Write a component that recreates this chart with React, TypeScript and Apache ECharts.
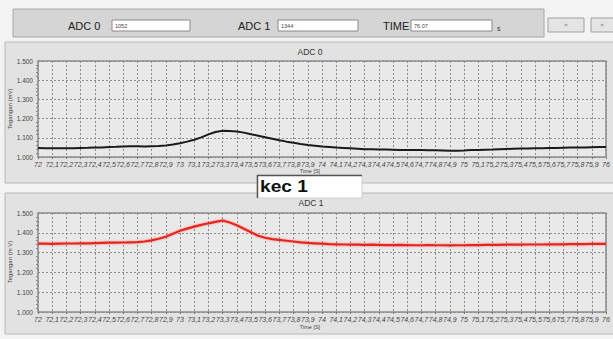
import React, { useEffect, useRef } from "react";
import * as echarts from "echarts";

const times = [
  72.0, 72.05, 72.1, 72.15, 72.2, 72.25, 72.3, 72.35, 72.4, 72.45,
  72.5, 72.55, 72.6, 72.65, 72.7, 72.75, 72.8, 72.85, 72.9, 72.95,
  73.0, 73.05, 73.1, 73.15, 73.2, 73.25, 73.3, 73.35, 73.4, 73.45,
  73.5, 73.55, 73.6, 73.65, 73.7, 73.75, 73.8, 73.85, 73.9, 73.95,
  74.0, 74.05, 74.1, 74.15, 74.2, 74.25, 74.3, 74.35, 74.4, 74.45,
  74.5, 74.55, 74.6, 74.65, 74.7, 74.75, 74.8, 74.85, 74.9, 74.95,
  75.0, 75.05, 75.1, 75.15, 75.2, 75.25, 75.3, 75.35, 75.4, 75.45,
  75.5, 75.55, 75.6, 75.65, 75.7, 75.75, 75.8, 75.85, 75.9, 75.95,
  76.0,
];

// ADC 0 (mV)
const adc0 = [
  1047, 1046, 1046, 1045, 1046, 1045, 1047, 1048, 1050, 1050,
  1052, 1053, 1055, 1056, 1056, 1055, 1056, 1057, 1060, 1065,
  1072, 1080, 1090, 1102, 1118, 1130, 1137, 1136, 1133, 1127,
  1119, 1111, 1103, 1095, 1087, 1080, 1074, 1068, 1063, 1059,
  1055, 1052, 1049, 1047, 1045, 1043, 1041, 1040, 1039, 1039,
  1038, 1037, 1037, 1036, 1036, 1035, 1035, 1034, 1032, 1033,
  1034, 1036, 1037, 1038, 1039, 1041, 1042, 1043, 1044, 1044,
  1045, 1046, 1047, 1047, 1048, 1049, 1049, 1050, 1051, 1052,
  1052,
];

// ADC 1 (mV)
const adc1 = [
  1345, 1345, 1344, 1345, 1346, 1346, 1347, 1347, 1348, 1349,
  1350, 1350, 1351, 1352, 1353, 1356, 1362, 1370, 1380, 1395,
  1410, 1421, 1431, 1440, 1448, 1455, 1462, 1452, 1438, 1420,
  1403, 1385, 1375, 1368, 1364, 1360, 1356, 1352, 1349, 1347,
  1345, 1343, 1342, 1341, 1340, 1340, 1339, 1340, 1339, 1338,
  1338, 1339, 1338, 1337, 1337, 1338, 1337, 1337, 1336, 1337,
  1337, 1338, 1338, 1339, 1339, 1339, 1340, 1340, 1340, 1341,
  1341, 1341, 1342, 1342, 1342, 1343, 1343, 1343, 1344, 1344,
  1344,
];

const chartTitles = ["ADC 0", "ADC 1"];
const readouts = { adc0: "1052", adc1: "1344", time: "76,07" };

const FONT = "'Liberation Sans', Arial, sans-serif";

function xLabel(v: number) {
  const r = Math.round(v * 10) / 10;
  return String(r).replace(".", ",");
}
function yLabel(v: number) {
  return (v / 1000).toFixed(3);
}

export default function App() {
  const ref = useRef<HTMLDivElement>(null);
  useEffect(() => {
    if (!ref.current) return;
    const chart = echarts.init(ref.current, undefined, { renderer: "svg" });
    const grids = [
      { left: 38, top: 61, width: 568, height: 96 },
      { left: 38, top: 213, width: 568, height: 99 },
    ];
    const mkX = (gi: number) => ({
      type: "value" as const,
      gridIndex: gi,
      min: 72,
      max: 76,
      interval: 0.1,
      axisLine: { show: false },
      axisTick: { show: true, length: 2, lineStyle: { color: "#777" } },
      axisLabel: {
        formatter: xLabel,
        fontSize: 7,
        fontStyle: "italic",
        color: "#444",
        fontFamily: FONT,
        margin: 4,
        hideOverlap: false,
        showMinLabel: true,
        showMaxLabel: true,
      },
      splitLine: {
        show: true,
        lineStyle: { color: "#8e8e8e", type: [2, 2] as any, width: 1 },
      },
    });
    const mkY = (gi: number) => ({
      type: "value" as const,
      gridIndex: gi,
      min: 1000,
      max: 1500,
      interval: 100,
      axisLine: { show: false },
      axisTick: { show: false },
      minorTick: { show: true, splitNumber: 5, length: 2, lineStyle: { color: "#888" } },
      axisLabel: {
        formatter: yLabel,
        fontSize: 6.5,
        color: "#444",
        fontFamily: FONT,
        margin: 5,
      },
      splitLine: {
        show: true,
        lineStyle: { color: "#8e8e8e", type: [2, 2] as any, width: 1 },
      },
    });

    const box = (x: number, w: number, val: string) => [
      {
        type: "rect",
        z: 1,
        shape: { x, y: 20, width: w, height: 11 },
        style: { fill: "#ffffff", stroke: "#8a8a8a", lineWidth: 1 },
      },
      {
        type: "text",
        z: 2,
        x: x + 3,
        y: 25.5,
        style: { text: val, fontSize: 5.5, fill: "#444", fontFamily: FONT, verticalAlign: "middle" },
      },
    ];
    const label = (x: number, t: string) => ({
      type: "text",
      z: 2,
      x,
      y: 25.5,
      style: { text: t, fontSize: 11, fill: "#222", fontFamily: FONT, verticalAlign: "middle" },
    });

    const option: any = {
      animation: false,
      backgroundColor: "#f3f3f3",
      grid: grids.map((g) => ({
        ...g,
        show: true,
        backgroundColor: "#e9e9e9",
        borderColor: "#8a8a8a",
        borderWidth: 1.5,
      })),
      xAxis: [mkX(0), mkX(1)],
      yAxis: [mkY(0), mkY(1)],
      series: [
        {
          type: "line",
          xAxisIndex: 0,
          yAxisIndex: 0,
          showSymbol: false,
          data: times.map((t, i) => [t, adc0[i]]),
          lineStyle: { color: "#1a1a1a", width: 2 },
          z: 5,
        },
        {
          type: "line",
          xAxisIndex: 1,
          yAxisIndex: 1,
          showSymbol: false,
          data: times.map((t, i) => [t, adc1[i]]),
          lineStyle: {
            color: "#e4261f",
            width: 2.2,
            shadowColor: "rgba(255,90,90,0.7)",
            shadowBlur: 2,
          },
          z: 5,
        },
      ],
      graphic: [
        // panels
        {
          type: "rect",
          z: -10,
          shape: { x: 13, y: 9, width: 531, height: 28 },
          style: { fill: "#d5d5d5", stroke: "#a6a6a6", lineWidth: 1 },
        },
        {
          type: "rect",
          z: -10,
          shape: { x: 5, y: 42, width: 612, height: 141 },
          style: { fill: "#e2e2e2", stroke: "#b8b8b8", lineWidth: 1 },
        },
        {
          type: "rect",
          z: -10,
          shape: { x: 5, y: 193, width: 612, height: 141 },
          style: { fill: "#e2e2e2", stroke: "#b8b8b8", lineWidth: 1 },
        },
        // top readouts
        label(68, "ADC 0"),
        ...box(112, 78, readouts.adc0),
        label(238, "ADC 1"),
        ...box(278, 80, readouts.adc1),
        label(383, "TIME"),
        ...box(411, 81, readouts.time),
        {
          type: "text",
          z: 2,
          x: 497,
          y: 28,
          style: { text: "s", fontSize: 7, fill: "#333", fontFamily: FONT, verticalAlign: "middle" },
        },
        // buttons
        {
          type: "rect",
          z: 1,
          shape: { x: 548, y: 18, width: 36, height: 14 },
          style: { fill: "#e4e4e4", stroke: "#a0a0a0", lineWidth: 1 },
        },
        {
          type: "text",
          z: 2,
          x: 566,
          y: 25,
          style: { text: "<", fontSize: 6, fill: "#444", fontFamily: FONT, align: "center", verticalAlign: "middle" },
        },
        {
          type: "rect",
          z: 1,
          shape: { x: 591, y: 18, width: 26, height: 14 },
          style: { fill: "#e4e4e4", stroke: "#a0a0a0", lineWidth: 1 },
        },
        {
          type: "text",
          z: 2,
          x: 602,
          y: 25,
          style: { text: ">", fontSize: 6, fill: "#444", fontFamily: FONT, align: "center", verticalAlign: "middle" },
        },
        // chart titles
        {
          type: "text",
          z: 3,
          x: 310,
          y: 52,
          style: { text: chartTitles[0], fontSize: 8.5, fill: "#333", fontFamily: FONT, align: "center", verticalAlign: "middle" },
        },
        {
          type: "text",
          z: 3,
          x: 311,
          y: 203,
          style: { text: chartTitles[1], fontSize: 8.5, fill: "#333", fontFamily: FONT, align: "center", verticalAlign: "middle" },
        },
        // axis names
        {
          type: "text",
          z: 3,
          x: 310,
          y: 171,
          style: { text: "Time [S]", fontSize: 5.5, fill: "#444", fontFamily: FONT, align: "center", verticalAlign: "middle" },
        },
        {
          type: "text",
          z: 3,
          x: 310,
          y: 327,
          style: { text: "Time [S]", fontSize: 5.5, fill: "#444", fontFamily: FONT, align: "center", verticalAlign: "middle" },
        },
        {
          type: "text",
          z: 3,
          x: 10,
          y: 109,
          rotation: Math.PI / 2,
          style: { text: "Tegangan (mV)", fontSize: 6, fill: "#444", fontFamily: FONT, align: "center", verticalAlign: "middle" },
        },
        {
          type: "text",
          z: 3,
          x: 10,
          y: 262,
          rotation: Math.PI / 2,
          style: { text: "Tegangan (m V)", fontSize: 6, fill: "#444", fontFamily: FONT, align: "center", verticalAlign: "middle" },
        },
        // kec 1 box
        {
          type: "rect",
          z: 50,
          shape: { x: 257, y: 175, width: 105, height: 23 },
          style: { fill: "#ffffff", stroke: "#d0d0d0", lineWidth: 1 },
        },
        {
          type: "polyline",
          z: 51,
          shape: { points: [[257.5, 198], [257.5, 175.5], [362, 175.5]] },
          style: { stroke: "#555", lineWidth: 1.5, fill: "none" },
        },
        {
          type: "text",
          z: 52,
          x: 260,
          y: 187,
          scaleX: 1.2,
          style: {
            text: "kec 1",
            fontSize: 16,
            fontWeight: "bold",
            fill: "#111",
            fontFamily: FONT,
            verticalAlign: "middle",
          },
        },
      ],
    };
    chart.setOption(option);
    return () => chart.dispose();
  }, []);
  return (
    <div
      ref={ref}
      style={{ position: "absolute", left: 0, top: 0, width: 613, height: 339 }}
    />
  );
}
